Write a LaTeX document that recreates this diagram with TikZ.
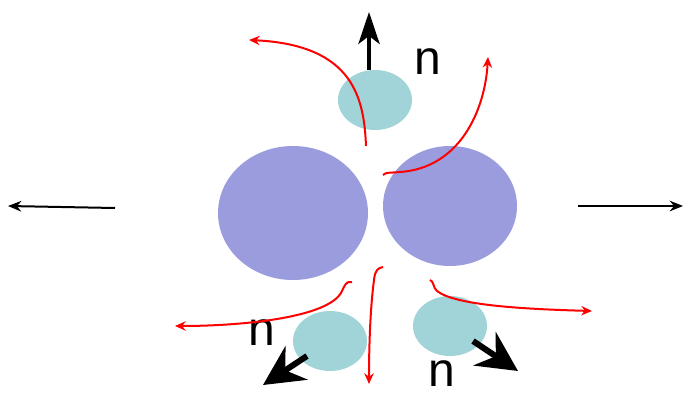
\documentclass[tikz,border=0pt]{standalone}
\usepackage{fontspec}
\setmainfont{Liberation Sans}
\usetikzlibrary{arrows.meta}
\definecolor{bigblue}{HTML}{9B9CDE}
\definecolor{teal1}{HTML}{A0D4D8}
\begin{document}
\begin{tikzpicture}[x=0.75pt,y=-0.75pt,
  big/.style={fill=bigblue,draw=none},
  small/.style={fill=teal1,draw=none},
  flow/.style={red,line width=1.5pt,-{Stealth[length=8pt,width=7pt]}},
  thickarr/.style={black,line width=2.4pt,-{Stealth[length=24pt,width=16pt,inset=6pt]}},
  fatarr/.style={black,line width=4.5pt,-{Stealth[length=30pt,width=30pt,inset=10pt]}},
  thinarr/.style={black,line width=1.5pt,-{Stealth[length=10pt,width=8pt]}},
  lab/.style={font=\fontsize{36}{40}\selectfont,inner sep=0pt}]
\useasboundingbox (0,0) rectangle (692,396);
\fill[big] (293,213) ellipse [x radius=75, y radius=67];
\fill[big] (450,206) ellipse [x radius=67, y radius=60];
\fill[small] (375,100) ellipse [x radius=37, y radius=30];
\fill[small] (330,341) ellipse [x radius=37, y radius=30];
\fill[small] (450,326) ellipse [x radius=37, y radius=30];
\coordinate (t0) at (369,70);
\coordinate (t1) at (369,12);
\coordinate (bl0) at (307,356);
\coordinate (bl1) at (263,385);
\coordinate (br0) at (473,341);
\coordinate (br1) at (518,371);
\coordinate (l0) at (115,208);
\coordinate (l1) at (8,206);
\coordinate (r0) at (578,206);
\coordinate (r1) at (683,206);
\draw[thickarr] (t0) -- (t1);
\draw[fatarr] (bl0) -- (bl1);
\draw[fatarr] (br0) -- (br1);
\draw[thinarr] (l0) -- (l1);
\draw[thinarr] (r0) -- (r1);
\node[lab] (n1) at (428,62) {n};
\node[lab] (n2) at (262,333) {n};
\node[lab] (n3) at (442,374) {n};
\draw[flow] (366,146) .. controls (364,100) and (355,45) .. (249,40);
\draw[flow] (383,175) .. controls (386,172) and (390,173) .. (400,172) .. controls (460,168) and (485,110) .. (488,57);
\draw[flow] (352,282) .. controls (346,281) and (345,285) .. (342,291) .. controls (330,318) and (240,326) .. (175,326);
\draw[flow] (383,267) .. controls (378,268) and (375,270) .. (374,280) .. controls (370,310) and (369,350) .. (369,384);
\draw[flow] (430,280) .. controls (434,281) and (433,288) .. (437,291) .. controls (455,305) and (520,309) .. (592,311);
\end{tikzpicture}
\end{document}
